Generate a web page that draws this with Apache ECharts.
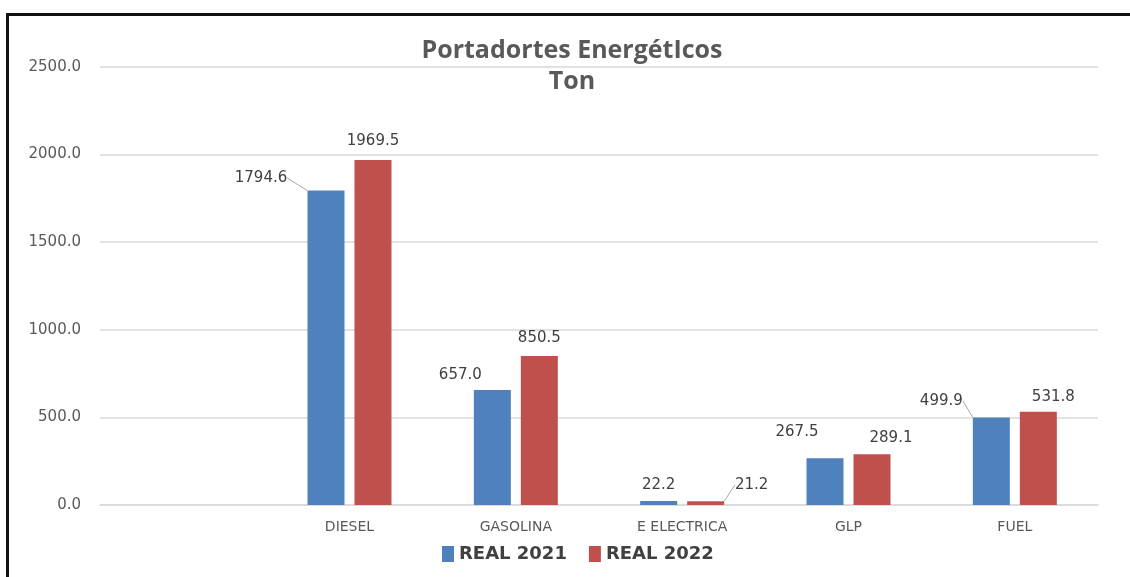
<!DOCTYPE html>
<html>
<head>
<meta charset="utf-8">
<script src="https://cdn.jsdelivr.net/npm/echarts@6/dist/echarts.min.js"></script>
<style>
html,body{margin:0;padding:0;background:#fff;}
#frame{position:absolute;left:6px;top:13px;width:1124px;height:564px;border-top:3px solid #111;border-left:3px solid #111;box-sizing:border-box;}
#chart{position:absolute;left:0;top:0;width:1130px;height:577px;}
</style>
</head>
<body>
<div id="frame"></div>
<div id="chart"></div>
<script>
const categories = ['', 'DIESEL', 'GASOLINA', 'E ELECTRICA', 'GLP', 'FUEL'];
const real2021 = [null, 1794.6, 657.0, 22.2, 267.5, 499.9];
const real2022 = [null, 1969.5, 850.5, 21.2, 289.1, 531.8];
const yTicks = [0, 500, 1000, 1500, 2000, 2500];

// label nudges (dx, dy) per category and whether a leader line is drawn
const shift2021 = [[0,0],[-65,2],[-32,0],[0,-2],[-28,-12],[-50,-2]];
const shift2022 = [[0,0],[0,-4],[0,-3],[46,-2],[19,-2],[15,0]];
const leader2021 = [false, true, false, false, false, true];
const leader2022 = [false, false, false, true, false, false];

const chart = echarts.init(document.getElementById('chart'));
const labelStyle = {
  show: true, position: 'top', distance: 7,
  color: '#404040', fontFamily: 'DejaVu Sans', fontSize: 15,
  formatter: p => p.value == null ? '' : p.value.toFixed(1)
};
function layoutFor(shifts){
  return function(p){ const s = shifts[p.dataIndex]; return {dx: s[0], dy: s[1]}; };
}
function items(values, leaders){
  return values.map((v, i) => ({
    value: v,
    labelLine: {show: leaders[i], lineStyle: {color: '#a6a6a6', width: 1}}
  }));
}
chart.setOption({
  animation: false,
  title: {
    text: 'Portadortes EnergétIcos\nTon',
    left: 567, top: 30, textAlign: 'center',
    textStyle: {color: '#595959', fontFamily: 'Open Sans', fontWeight: 'bold', fontSize: 25, lineHeight: 31}
  },
  legend: {
    bottom: 9, left: 437,
    itemWidth: 12, itemHeight: 16, itemGap: 22,
    icon: 'rect',
    textStyle: {color: '#404040', fontFamily: 'DejaVu Sans', fontWeight: 'bold', fontSize: 18},
    data: ['REAL 2021', 'REAL 2022']
  },
  grid: {left: 100, right: 32, top: 67, bottom: 72},
  xAxis: {
    type: 'category', data: categories,
    axisTick: {show: false},
    axisLine: {lineStyle: {color: '#d9d9d9', width: 1.5}},
    axisLabel: {color: '#595959', fontFamily: 'DejaVu Sans', fontSize: 14, margin: 15}
  },
  yAxis: {
    type: 'value', min: yTicks[0], max: yTicks[yTicks.length-1], interval: 500,
    axisLine: {show: false}, axisTick: {show: false},
    splitLine: {lineStyle: {color: '#d9d9d9', width: 1.5}},
    axisLabel: {color: '#595959', fontFamily: 'DejaVu Sans', fontSize: 15, margin: 19,
      formatter: v => v.toFixed(1)}
  },
  series: [
    {
      name: 'REAL 2021', type: 'bar', data: items(real2021, leader2021),
      barWidth: 37, barGap: '27%',
      itemStyle: {color: '#4f81bd'},
      label: labelStyle,
      labelLayout: layoutFor(shift2021)
    },
    {
      name: 'REAL 2022', type: 'bar', data: items(real2022, leader2022),
      barWidth: 37,
      itemStyle: {color: '#c0504d'},
      label: labelStyle,
      labelLayout: layoutFor(shift2022)
    }
  ]
});
</script>
</body>
</html>
